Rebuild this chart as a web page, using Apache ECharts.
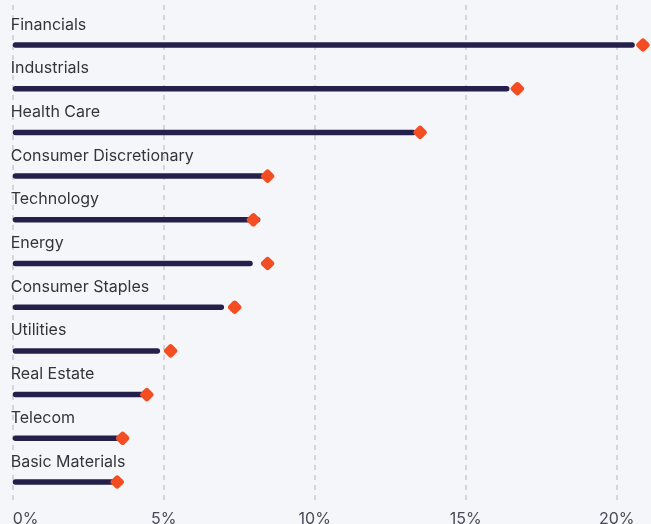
<!DOCTYPE html>
<html>
<head>
<meta charset="utf-8">
<script src="https://cdn.jsdelivr.net/npm/echarts@6/dist/echarts.min.js"></script>
<style>
html,body{margin:0;padding:0;background:#f5f6fa;}
#chart{width:651px;height:524px;}
</style>
</head>
<body>
<div id="chart"></div>
<script>
var categories = ['Financials','Industrials','Health Care','Consumer Discretionary','Technology','Energy','Consumer Staples','Utilities','Real Estate','Telecom','Basic Materials'];
var barValues = [20.6, 16.45, 13.35, 8.35, 8.2, 7.95, 7.0, 4.88, 4.35, 3.55, 3.38];
var markerValues = [20.87, 16.71, 13.49, 8.44, 7.97, 8.44, 7.35, 5.23, 4.44, 3.64, 3.46];
var xTicks = [0, 5, 10, 15, 20];

var FONT = 'Inter';
var chart = echarts.init(document.getElementById('chart'), null, {renderer: 'canvas'});
var L = 12.7, R = 4.1, XMAX = 21;
chart.setOption({
  backgroundColor: '#f5f6fa',
  animation: false,
  grid: [
    {left: L, right: R, top: 5, bottom: 22, containLabel: false, outerBoundsMode: 'none'},
    {left: L, right: R, top: 45, bottom: 42, containLabel: false, outerBoundsMode: 'none'}
  ],
  xAxis: [
    {gridIndex: 0, type: 'value', min: 0, max: XMAX, interval: 5,
     axisLine: {show: false}, axisTick: {show: false},
     splitLine: {show: true, showMinLine: true, showMaxLine: false, lineStyle: {color: '#d5d6db', width: 2, type: [5, 5]}},
     axisLabel: {color: '#4a4a55', fontFamily: FONT, fontSize: 16, margin: 9, verticalAlign: 'top',
       alignMinLabel: 'left', showMaxLabel: false,
       formatter: function (v) { return xTicks.indexOf(v) >= 0 ? v + '%' : ''; }}},
    {gridIndex: 1, type: 'value', min: 0, max: XMAX, show: false}
  ],
  yAxis: [
    {gridIndex: 0, type: 'category', data: categories, show: false},
    {gridIndex: 1, type: 'category', data: categories, inverse: true, boundaryGap: false, show: false}
  ],
  series: [
    {type: 'bar', xAxisIndex: 1, yAxisIndex: 1, data: barValues, barWidth: 5.5,
     itemStyle: {color: '#25204b', borderRadius: 2.75},
     label: {show: true, formatter: '{b}', position: [-2, -17.5], verticalAlign: 'middle', align: 'left',
       color: '#34343c', fontFamily: FONT, fontSize: 16}, z: 2},
    {type: 'scatter', xAxisIndex: 1, yAxisIndex: 1, data: markerValues,
     symbol: 'roundRect', symbolSize: 11, symbolRotate: 45,
     itemStyle: {color: '#f44d22', opacity: 1}, z: 3, clip: false}
  ]
});
</script>
</body>
</html>
